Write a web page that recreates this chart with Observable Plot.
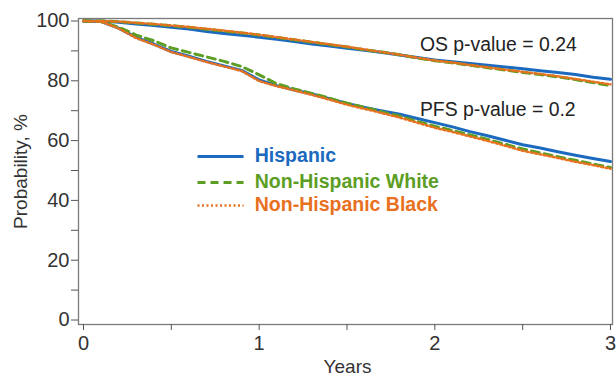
<!DOCTYPE html>
<html>
<head>
<meta charset="utf-8">
<script src="https://cdn.jsdelivr.net/npm/d3@7"></script>
<script src="https://cdn.jsdelivr.net/npm/@observablehq/plot@0.6"></script>
<style>
  html, body { margin: 0; padding: 0; background: #fff; }
  #chart svg { display: block; }
</style>
</head>
<body>
<div id="chart"></div>
<script>
// ---- data ----
const years = [0, 0.1, 0.2, 0.3, 0.4, 0.5, 0.6, 0.7, 0.8, 0.9, 1.0, 1.1, 1.2, 1.3, 1.4, 1.5,
               1.6, 1.7, 1.8, 1.9, 2.0, 2.1, 2.2, 2.3, 2.4, 2.5, 2.6, 2.7, 2.8, 2.9, 3.0];

const groups = ["Hispanic", "Non-Hispanic White", "Non-Hispanic Black"];

// Overall survival (upper curves)
const osHispanic = [100, 100, 99.6, 99.0, 98.5, 97.9, 97.3, 96.5, 95.8, 95.2, 94.6, 93.9, 93.1, 92.3, 91.6, 90.9,
                    90.2, 89.5, 88.6, 87.8, 87.0, 86.4, 85.8, 85.2, 84.6, 84.0, 83.4, 82.8, 82.1, 81.2, 80.5];
const osWhite    = [100, 100, 99.8, 99.3, 98.9, 98.4, 97.9, 97.2, 96.6, 96.0, 95.3, 94.5, 93.7, 92.9, 92.1, 91.3,
                    90.4, 89.6, 88.7, 87.6, 86.7, 86.0, 85.2, 84.4, 83.6, 82.8, 82.1, 81.3, 80.4, 79.4, 78.4];
const osBlack    = [100, 100, 99.8, 99.4, 99.0, 98.5, 98.0, 97.4, 96.8, 96.1, 95.4, 94.6, 93.8, 93.0, 92.2, 91.4,
                    90.5, 89.6, 88.7, 87.7, 86.8, 86.1, 85.3, 84.5, 83.7, 83.0, 82.3, 81.5, 80.6, 79.7, 78.8];

// Progression-free survival (lower curves)
const pfsHispanic = [100, 99.8, 97.6, 94.5, 92.3, 89.8, 88.2, 86.5, 85.0, 83.5, 80.3, 78.4, 76.9, 75.6, 74.0, 72.4,
                     71.1, 69.9, 68.8, 67.4, 66.0, 64.6, 63.0, 61.6, 60.1, 58.6, 57.5, 56.3, 55.1, 54.0, 53.0];
const pfsWhite    = [100, 99.8, 97.9, 95.3, 93.4, 91.0, 89.5, 88.0, 86.5, 84.8, 82.0, 79.0, 77.3, 75.8, 74.2, 72.5,
                     71.1, 69.6, 68.2, 66.4, 64.8, 63.4, 61.9, 60.4, 58.8, 57.2, 55.9, 54.6, 53.4, 52.2, 51.0];
const pfsBlack    = [100, 99.8, 97.5, 94.3, 92.1, 89.6, 88.0, 86.3, 84.8, 83.3, 79.9, 78.2, 76.8, 75.3, 73.7, 72.0,
                     70.6, 69.2, 67.7, 66.0, 64.3, 62.9, 61.4, 59.9, 58.3, 56.6, 55.4, 54.2, 52.9, 51.8, 50.6];

const yTicks = [0, 10, 20, 30, 40, 50, 60, 70, 80, 90, 100];
const xTicks = [0, 0.5, 1, 1.5, 2, 2.5, 3];
const notes = ["OS p-value = 0.24", "PFS p-value = 0.2"];

// ---- build table ----
const seriesDefs = [
  {group: groups[0], endpoint: "OS", values: osHispanic},
  {group: groups[1], endpoint: "OS", values: osWhite},
  {group: groups[2], endpoint: "OS", values: osBlack},
  {group: groups[0], endpoint: "PFS", values: pfsHispanic},
  {group: groups[1], endpoint: "PFS", values: pfsWhite},
  {group: groups[2], endpoint: "PFS", values: pfsBlack}
];
const rows = seriesDefs.flatMap(s => s.values.map((v, i) => ({group: s.group, endpoint: s.endpoint, t: years[i], p: v})));

const colors = {"Hispanic": "#1b6ac0", "Non-Hispanic White": "#5c9e23", "Non-Hispanic Black": "#e8701e"};
const styles = {
  "Hispanic": {strokeWidth: 3, dash: null},
  "Non-Hispanic White": {strokeWidth: 3, dash: "8,5"},
  "Non-Hispanic Black": {strokeWidth: 2.5, dash: "2,2.5"}
};

const FONT = "'Liberation Sans', Arial, Helvetica, sans-serif";

const lineMarks = groups.flatMap(g => ["OS", "PFS"].map(ep =>
  Plot.line(rows.filter(r => r.group === g && r.endpoint === ep), {
    x: "t", y: "p", stroke: colors[g], strokeWidth: styles[g].strokeWidth,
    strokeDasharray: styles[g].dash, curve: "linear"
  })
));

// legend (inside plot area, data-space anchors)
const legendY = [54.7, 46.0, 38.3];
const legendRows = groups.map((g, i) => ({group: g, y: legendY[i]}));
const legendMarks = legendRows.flatMap(r => [
  Plot.link([r], {x1: () => 0.649, x2: () => 0.911, y1: "y", y2: "y",
    stroke: colors[r.group], strokeWidth: styles[r.group].strokeWidth, strokeDasharray: styles[r.group].dash}),
  Plot.text([r], {x: () => 0.975, y: d => d.y + 0.3, text: "group", textAnchor: "start", lineAnchor: "middle",
    fill: colors[r.group], fontSize: 19.5, fontWeight: "bold"})
]);

const noteRows = [{text: notes[0], t: 1.915, p: 92.0}, {text: notes[1], t: 1.915, p: 70.2}];

const chart = Plot.plot({
  width: 616,
  height: 377,
  marginLeft: 78,
  marginRight: 4,
  marginTop: 18,
  marginBottom: 53,
  insetLeft: 5,
  insetRight: 2,
  insetTop: 2.5,
  insetBottom: 4.5,
  style: {fontFamily: FONT, background: "#fff", color: "#333"},
  x: {domain: [0, 3]},
  y: {domain: [0, 100]},
  marks: [
    Plot.frame({stroke: "#7a7a7a", strokeWidth: 1.3}),
    Plot.axisY({ticks: yTicks, tickSize: 7, tickPadding: 2, fontSize: 20,
      tickFormat: d => d % 20 === 0 ? String(d) : "", label: null, stroke: "#555", fill: "#333"}),
    Plot.axisX({ticks: xTicks, tickSize: 6, tickPadding: 5, fontSize: 20,
      tickFormat: d => Number.isInteger(d) ? String(d) : "", label: null, stroke: "#555", fill: "#333"}),
    Plot.text(["Probability, %"], {frameAnchor: "left", dx: -58, rotate: -90, text: d => d,
      fontSize: 19, fill: "#333", textAnchor: "middle", lineAnchor: "middle"}),
    Plot.text(["Years"], {frameAnchor: "bottom", dx: 2, dy: 42, text: d => d,
      fontSize: 19, fill: "#333", textAnchor: "middle", lineAnchor: "middle"}),
    ...lineMarks,
    Plot.text(noteRows, {x: "t", y: "p", text: "text", textAnchor: "start", lineAnchor: "middle",
      fontSize: 19.4, fill: "#222"}),
    ...legendMarks
  ]
});

document.getElementById("chart").appendChild(chart);
</script>
</body>
</html>
